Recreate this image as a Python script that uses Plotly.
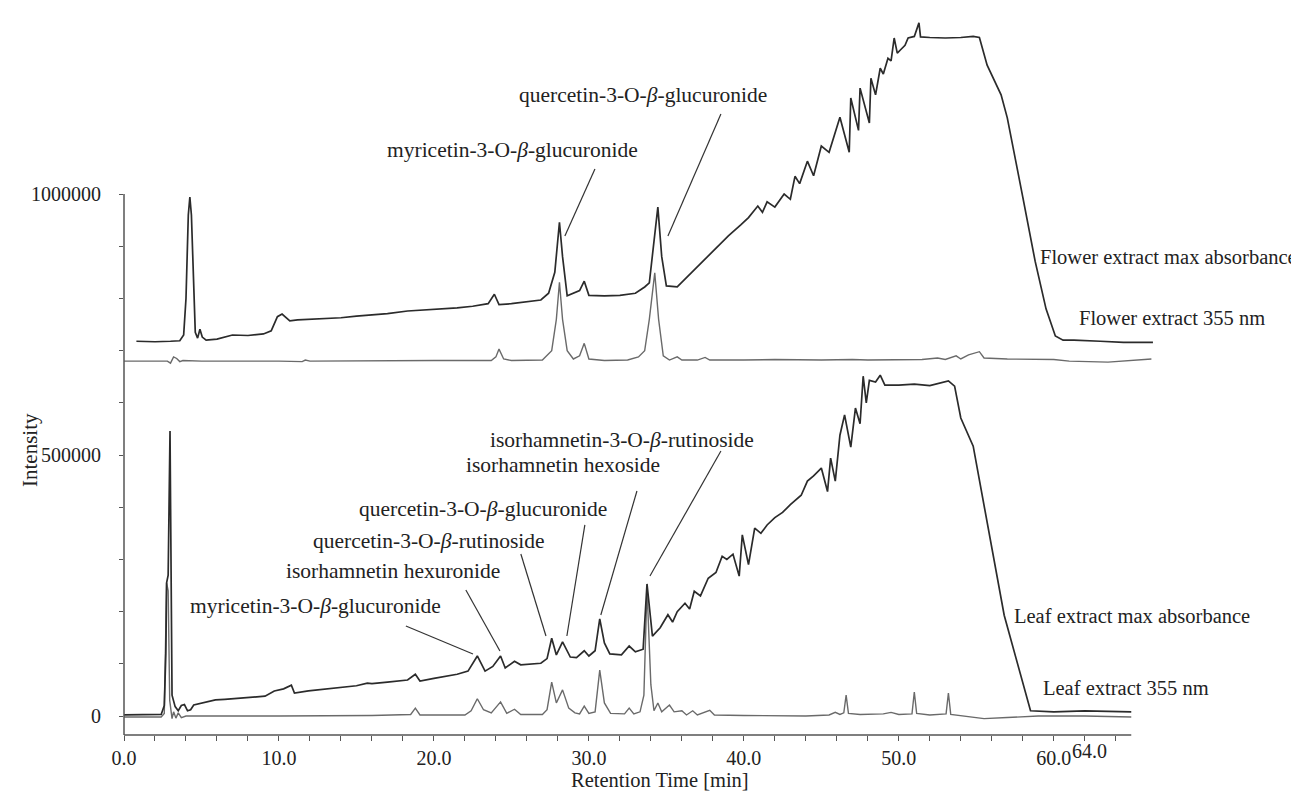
import plotly.graph_objects as go

# ---------------- data (retention time [min], intensity) ----------------
flower_max_t = [0.8, 2.0, 3.0, 3.6, 3.85, 4.0, 4.15, 4.25, 4.35, 4.5, 4.6, 4.75, 4.9, 5.05, 5.3, 6.0, 7.0, 8.0,
                9.0, 9.5, 9.9, 10.2, 10.7, 11.2, 12.0, 13.0, 14.0, 15.0, 16.0, 17.0, 18.3, 19.5, 20.5, 21.5,
                22.5, 23.5, 23.9, 24.2, 25.0, 26.0, 26.9, 27.4, 27.8, 28.1, 28.3, 28.6, 29.0, 29.4, 29.7, 30.0,
                31.0, 32.0, 33.0, 33.6, 33.9, 34.15, 34.45, 34.7, 35.0, 35.7, 36.3, 37.0, 38.0, 39.0, 39.8,
                40.3, 40.9, 41.2, 41.5, 42.0, 42.6, 43.0, 43.3, 43.6, 44.1, 44.5, 45.0, 45.5, 46.2, 46.8, 46.9,
                47.2, 47.4, 47.5, 47.8, 48.1, 48.2, 48.5, 48.8, 49.0, 49.3, 49.5, 49.7, 49.9, 50.1, 50.4, 50.6,
                51.0, 51.3, 51.4, 52.0, 53.0, 54.0, 54.8, 55.2, 55.7, 56.6, 57.0, 58.0, 58.8, 59.5, 60.1, 60.6,
                61.3, 63.0, 64.5, 66.4]
flower_max_v = [718000, 717000, 718000, 719000, 730000, 800000, 960000, 994000, 960000, 820000, 735000, 724000,
                741000, 726000, 720000, 722000, 730000, 729000, 732000, 738000, 765000, 770000, 757000, 759000,
                760000, 762000, 763000, 766000, 768000, 771000, 776000, 778000, 780000, 782000, 785000, 790000,
                808000, 788000, 790000, 793000, 797000, 810000, 850000, 946000, 880000, 805000, 810000, 815000,
                833000, 806000, 805000, 806000, 810000, 822000, 830000, 900000, 975000, 880000, 824000, 822000,
                840000, 862000, 890000, 920000, 941000, 955000, 977000, 965000, 985000, 975000, 1000000, 990000,
                1034000, 1020000, 1063000, 1035000, 1092000, 1080000, 1147000, 1080000, 1184000, 1150000,
                1122000, 1203000, 1170000, 1136000, 1222000, 1190000, 1241000, 1230000, 1260000, 1255000,
                1299000, 1270000, 1276000, 1285000, 1299000, 1302000, 1328000, 1301000, 1300000, 1299000,
                1300000, 1302000, 1300000, 1247000, 1190000, 1146000, 994000, 871000, 780000, 728000, 720000,
                720000, 718000, 716000, 716000]

flower_355_t = [0.0, 2.8, 3.0, 3.2, 3.4, 3.6, 3.8, 5.0, 10.0, 11.5, 11.7, 12.0, 20.0, 23.7, 24.0, 24.2, 24.5,
                25.0, 27.0, 27.6, 27.9, 28.1, 28.3, 28.6, 29.0, 29.4, 29.7, 30.0, 31.0, 32.5, 33.2, 33.6, 33.9,
                34.25, 34.5, 34.8, 35.2, 35.7, 36.0, 37.0, 37.5, 37.8, 40.0, 42.0, 45.0, 47.0, 48.0, 50.0, 51.5,
                52.5, 53.0, 53.7, 54.0, 54.5, 55.2, 55.5, 57.0, 60.0, 61.0, 63.5, 66.3]
flower_355_v = [680000, 680000, 676000, 688000, 685000, 679000, 681000, 680000, 680000, 679000, 682000, 680000,
                681000, 681000, 688000, 703000, 684000, 681000, 682000, 700000, 760000, 831000, 760000, 700000,
                684000, 690000, 714000, 684000, 681000, 682000, 688000, 700000, 760000, 849000, 760000, 690000,
                682000, 688000, 682000, 682000, 687000, 682000, 682000, 683000, 682000, 683000, 682000, 682000,
                683000, 686000, 683000, 690000, 684000, 692000, 698000, 686000, 684000, 683000, 680000, 678000,
                684000]

leaf_max_t = [0.0, 2.4, 2.6, 2.7, 2.75, 2.85, 2.97, 3.05, 3.1, 3.3, 3.5, 3.7, 3.9, 4.1, 4.3, 4.5, 5.0, 5.9, 6.5,
              7.4, 8.0, 9.1, 9.7, 10.3, 10.8, 11.0, 11.9, 13.0, 14.0, 15.0, 15.7, 16.0, 17.0, 18.3, 18.8, 19.1,
              20.0, 21.5, 22.2, 22.8, 23.3, 23.8, 24.3, 24.6, 25.2, 25.6, 26.9, 27.3, 27.6, 27.9, 28.3, 28.8,
              29.2, 29.7, 30.0, 30.4, 30.7, 31.0, 31.35, 32.1, 32.6, 33.0, 33.5, 33.75, 34.1, 34.6, 35.1, 35.4,
              35.7, 36.2, 36.5, 36.8, 37.2, 37.7, 38.2, 38.6, 38.9, 39.3, 39.7, 39.9, 40.3, 40.7, 41.1, 41.5,
              42.0, 42.5, 43.0, 43.7, 44.1, 44.5, 45.0, 45.4, 45.6, 45.9, 46.2, 46.5, 46.9, 47.2, 47.5, 47.7,
              47.9, 48.1, 48.5, 48.8, 49.1, 50.0, 51.0, 52.0, 53.2, 53.6, 54.0, 54.8, 56.8, 58.5, 60.0, 62.0,
              65.0]
leaf_max_v = [2000, 3000, 20000, 120000, 255000, 270000, 546000, 200000, 40000, 18000, 10000, 20000, 22000,
              10000, 12000, 21000, 25000, 31000, 32000, 34000, 35000, 38000, 48000, 52000, 59000, 44000, 48000,
              52000, 55000, 58000, 63000, 62000, 65000, 69000, 80000, 67000, 72000, 80000, 86000, 115000, 86000,
              95000, 115000, 92000, 105000, 98000, 101000, 110000, 149000, 117000, 142000, 113000, 112000,
              125000, 115000, 125000, 186000, 140000, 119000, 117000, 134000, 123000, 128000, 253000, 153000,
              169000, 194000, 180000, 200000, 216000, 205000, 239000, 230000, 264000, 275000, 306000, 300000,
              310000, 268000, 347000, 290000, 360000, 350000, 366000, 380000, 390000, 405000, 423000, 450000,
              460000, 475000, 430000, 494000, 450000, 538000, 577000, 515000, 590000, 560000, 651000, 600000,
              643000, 640000, 653000, 634000, 634000, 636000, 633000, 642000, 632000, 571000, 517000, 193000,
              10000, 8000, 10000, 8000]

leaf_355_t = [0.0, 2.4, 2.6, 2.75, 2.85, 2.95, 3.1, 3.2, 3.35, 3.5, 3.7, 4.0, 10.0, 16.0, 18.5, 18.8, 19.1, 22.0,
              22.4, 22.8, 23.2, 23.7, 24.3, 24.7, 25.2, 25.6, 27.0, 27.3, 27.6, 27.9, 28.3, 28.7, 29.1, 29.4,
              29.7, 30.0, 30.4, 30.7, 31.0, 31.4, 32.3, 32.6, 32.9, 33.3, 33.55, 33.75, 34.0, 34.2, 34.45, 34.7,
              35.2, 35.5, 36.0, 36.3, 36.7, 37.0, 37.8, 38.1, 40.0, 44.0, 45.5, 45.9, 46.2, 46.45, 46.6, 46.75,
              47.5, 49.0, 49.5, 50.0, 50.85, 51.0, 51.15, 52.0, 53.05, 53.2, 53.35, 55.5, 57.0, 59.0, 62.0, 65.0]
leaf_355_v = [-2000, -2000, 5000, 255000, 240000, 30000, -5000, 8000, -4000, 6000, -3000, 0, 0, 1000, 3000,
              15000, 2000, 2000, 10000, 33000, 12000, 6000, 27000, 5000, 13000, 3000, 3000, 12000, 65000, 25000,
              50000, 15000, 6000, 4000, 19000, 5000, 8000, 88000, 25000, 5000, 4000, 15000, 4000, 8000, 40000,
              245000, 60000, 10000, 25000, 8000, 21000, 8000, 10000, 2000, 10000, 2000, 11000, 2000, 1000, 0,
              2000, 7000, 3000, 6000, 40000, 5000, 3000, 4000, 7000, 3000, 4000, 46000, 5000, 2000, 4000, 44000,
              3000, -5000, -3000, 0, 0, -2000]

x_tick_vals = list(range(0, 65, 2))
x_tick_text = ["0.0", "", "", "", "", "10.0", "", "", "", "", "20.0", "", "", "", "", "30.0", "", "", "", "",
               "40.0", "", "", "", "", "50.0", "", "", "", "", "60.0", "", ""]
y_tick_vals = list(range(0, 1000001, 100000))
y_tick_text = ["0", "", "", "", "", "500000", "", "", "", "", "1000000"]

# compound labels: (text, x, y, anchor) and leader lines (x0, y0, x1, y1)
peak_labels = [
    ("quercetin-3-O-<i>β</i>-glucuronide", 41.61, 1189800, "right"),
    ("myricetin-3-O-<i>β</i>-glucuronide", 33.29, 1084500, "right"),
    ("isorhamnetin-3-O-<i>β</i>-rutinoside", 23.48, 528800, "left"),
    ("isorhamnetin hexoside", 34.71, 480900, "right"),
    ("quercetin-3-O-<i>β</i>-glucuronide", 31.29, 396600, "right"),
    ("quercetin-3-O-<i>β</i>-rutinoside", 27.29, 335300, "right"),
    ("isorhamnetin hexuronide", 24.39, 277800, "right"),
    ("myricetin-3-O-<i>β</i>-glucuronide", 20.58, 210800, "right"),
]
trace_labels = [
    ("Flower extract max absorbance", 58.97, 879400),
    ("Flower extract 355 nm", 61.48, 762600),
    ("Leaf extract max absorbance", 57.29, 191600),
    ("Leaf extract 355 nm", 59.16, 53600),
]
leaders = [
    (38.52, 1153400, 35.10, 919700),
    (30.39, 1048100, 28.45, 919700),
    (38.52, 507700, 33.94, 268200),
    (33.10, 431100, 30.77, 193500),
    (29.74, 366000, 28.58, 153300),
    (25.61, 310400, 27.23, 153300),
    (22.06, 241400, 24.26, 124500),
    (18.19, 172400, 22.52, 118800),
]

# ---------------- figure ----------------
FONT = "Liberation Serif"
DARK = "#2b2b2b"
GRAY = "#6a6a6a"
TXT = "#222222"

fig = go.Figure()
fig.add_trace(go.Scatter(x=flower_355_t, y=flower_355_v, mode="lines", line=dict(color=GRAY, width=1.4),
                         name="Flower extract 355 nm"))
fig.add_trace(go.Scatter(x=flower_max_t, y=flower_max_v, mode="lines", line=dict(color=DARK, width=1.7),
                         name="Flower extract max absorbance"))
fig.add_trace(go.Scatter(x=leaf_355_t, y=leaf_355_v, mode="lines", line=dict(color=GRAY, width=1.4),
                         name="Leaf extract 355 nm"))
fig.add_trace(go.Scatter(x=leaf_max_t, y=leaf_max_v, mode="lines", line=dict(color=DARK, width=1.7),
                         name="Leaf extract max absorbance"))

for text, x, y, anchor in peak_labels:
    fig.add_annotation(x=x, y=y, xref="x", yref="y", text=text, showarrow=False, xanchor=anchor,
                       yanchor="middle", font=dict(family=FONT, size=21.5, color=TXT))
for text, x, y in trace_labels:
    fig.add_annotation(x=x, y=y, xref="x", yref="y", text=text, showarrow=False, xanchor="left",
                       yanchor="middle", font=dict(family=FONT, size=20.5, color=TXT))
for x0, y0, x1, y1 in leaders:
    fig.add_shape(type="line", xref="x", yref="y", x0=x0, y0=y0, x1=x1, y1=y1,
                  line=dict(color="#333", width=1.2))

# axis lines (the y axis stops at 1000000, the x axis at 65 min)
fig.add_shape(type="line", xref="paper", yref="y", x0=0, x1=0, y0=-36400, y1=1000000,
              line=dict(color="#555", width=1.5))
fig.add_shape(type="line", xref="x", yref="paper", x0=0, x1=65, y0=0, y1=0,
              line=dict(color="#555", width=1.5))

fig.add_annotation(x=62.3, y=-0.022, xref="x", yref="paper", text="64.0", showarrow=False,
                   xanchor="center", yanchor="middle", font=dict(family=FONT, size=20, color=TXT))
fig.add_annotation(x=0.5124, y=-0.0623, xref="paper", yref="paper", text="Retention Time [min]",
                   showarrow=False, xanchor="center", yanchor="middle",
                   font=dict(family=FONT, size=20.5, color=TXT))
fig.add_annotation(x=-0.0899, y=0.3947, xref="paper", yref="paper", text="Intensity", textangle=-90,
                   showarrow=False, xanchor="center", yanchor="middle",
                   font=dict(family=FONT, size=21, color=TXT))

fig.update_layout(
    width=1299, height=794,
    margin=dict(l=116, r=137, t=5, b=67),
    paper_bgcolor="white", plot_bgcolor="white",
    showlegend=False,
    font=dict(family=FONT, size=20, color=TXT),
    xaxis=dict(range=[0, 67.5], showgrid=False, zeroline=False, showline=False,
               tickvals=x_tick_vals, ticktext=x_tick_text, ticks="outside", ticklen=5,
               tickcolor="#555", tickwidth=1.2, ticklabelstandoff=0,
               tickfont=dict(family=FONT, size=20, color=TXT)),
    yaxis=dict(range=[-36400, 1346900], showgrid=False, zeroline=False, showline=False,
               tickvals=y_tick_vals, ticktext=y_tick_text, ticks="outside", ticklen=4,
               tickcolor="#555", tickwidth=1.2, ticklabelstandoff=14,
               tickfont=dict(family=FONT, size=20, color=TXT)),
)

fig.write_html("out.html")
